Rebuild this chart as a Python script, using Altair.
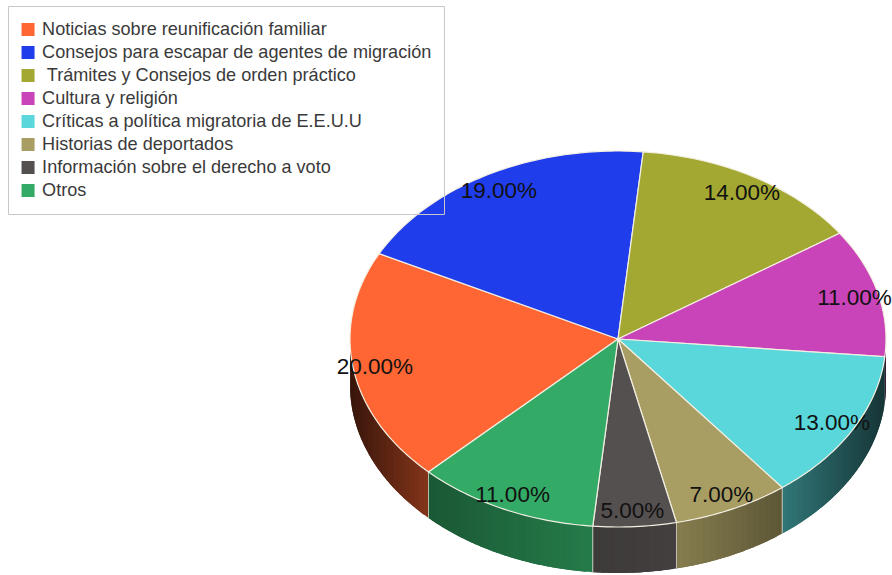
import math
import numpy as np
import altair as alt

# Survey shares, clockwise from the lower-left edge of the pie
categories = [
    "Noticias sobre reunificación familiar",
    "Consejos para escapar de agentes de migración",
    "\u200b Trámites y Consejos de orden práctico",
    "Cultura y religión",
    "Críticas a política migratoria de E.E.U.U",
    "Historias de deportados",
    "Información sobre el derecho a voto",
    "Otros",
]
shares = [20.0, 19.0, 14.0, 11.0, 13.0, 7.0, 5.0, 11.0]
palette = ["#ff6633", "#1f3dea", "#a3a832", "#c944b8",
           "#5ad7da", "#a89d63", "#555050", "#33aa66"]

# Tilted-disc geometry, in canvas pixels
CX, CY, RX, RY = 618.0, 339.0, 268.0, 188.0
DEPTH = 46.0
START_DEG = -135.0
STRIP_DEG = 1.5


def rim(t_deg, drop=0.0):
    t = math.radians(t_deg)
    return [CX + RX * math.sin(t), CY - RY * math.cos(t) + drop]


def span(a, b, step=1.0):
    n = max(2, int(math.ceil((b - a) / step)) + 1)
    return list(np.linspace(a, b, n))


def shade(hex_color, x):
    # Wall brightness falls off towards both ends of the disc
    k = float(np.interp(x, [350, 428, 593, 676, 781, 885],
                        [0.22, 0.52, 0.73, 0.80, 0.56, 0.25]))
    rgb = [int(hex_color[i:i + 2], 16) for i in (1, 3, 5)]
    return "#%02x%02x%02x" % tuple(int(c * k) for c in rgb)


def polygon(points, **props):
    ring = [[float(a), float(b)] for a, b in points]
    ring.append(ring[0])
    return {"type": "Feature", "properties": props,
            "geometry": {"type": "Polygon", "coordinates": [ring]}}


tops, walls, edges, labels = [], [], [], []
angle = START_DEG
for name, share, color in zip(categories, shares, palette):
    a0, a1 = angle, angle + share * 3.6
    angle = a1
    tops.append(polygon([[CX, CY]] + [rim(t) for t in span(a0, a1)], name=name))

    mt = math.radians((a0 + a1) / 2)
    labels.append({"label": f"{share:.2f}%",
                   "lon": CX - 1.0 + 0.915 * RX * math.sin(mt),
                   "lat": CY + 1.5 - 0.91 * RY * math.cos(mt)})

    # The rim faces the viewer only on the lower half of the disc
    base0, base1 = (a0 + 360, a1 + 360) if a1 < 90 else (a0, a1)
    lo, hi = max(base0, 90.0), min(base1, 270.0)
    if hi <= lo:
        continue
    ts = span(lo, hi, STRIP_DEG)
    for t0, t1 in zip(ts[:-1], ts[1:]):
        xm = rim((t0 + t1) / 2)[0]
        # Each strip runs under the next one so no seams show between them
        t_end = min(t1 + STRIP_DEG, hi)
        arc = span(t0, t_end, 0.5)
        walls.append(polygon(
            [rim(t) for t in arc] + [rim(t, DEPTH) for t in reversed(arc)],
            fill=shade(color, xm)))
    for t in (lo, hi):
        if 100 < t < 265:
            x, y = rim(t)
            edges.append({"type": "Feature", "properties": {},
                          "geometry": {"type": "LineString",
                                       "coordinates": [[x, y], [x, y + DEPTH]]}})

projection = alt.Projection(type="identity", scale=1, translate=[0, 0])

wall_layer = alt.Chart(alt.Data(values=walls)).mark_geoshape(strokeWidth=0).encode(
    fill=alt.Fill("properties.fill:N", scale=None),
)

edge_layer = alt.Chart(alt.Data(values=edges)).mark_geoshape(
    filled=False, stroke="#e8e4da", strokeWidth=1, strokeOpacity=0.45
)

top_layer = alt.Chart(alt.Data(values=tops)).mark_geoshape(
    stroke="#f3efe2", strokeWidth=1.2
).encode(
    color=alt.Color(
        "properties.name:N",
        scale=alt.Scale(domain=categories, range=palette),
        legend=alt.Legend(
            title=None,
            orient="none",
            legendX=8,
            legendY=6,
            padding=12,
            strokeColor="#c8c8c8",
            symbolType="square",
            symbolSize=169,
            symbolStrokeWidth=0,
            symbolOffset=-1,
            labelFont="Liberation Sans",
            labelFontSize=18.1,
            labelColor="#3a3a3a",
            labelLimit=500,
            labelOffset=5,
            clipHeight=23,
            rowPadding=0,
        ),
    )
)

label_layer = alt.Chart(alt.Data(values=labels)).mark_text(
    font="Liberation Sans", fontSize=22.5, color="#111111", align="center", baseline="middle"
).encode(longitude="lon:Q", latitude="lat:Q", text="label:N")

chart = (
    alt.layer(wall_layer, edge_layer, top_layer, label_layer)
    .properties(width=892, height=575, padding=0,
                projection=projection, autosize=alt.AutoSizeParams(type="none"))
    .configure_view(stroke=None)
)

chart.save("out.html", embed_options={"renderer": "svg", "actions": False})
